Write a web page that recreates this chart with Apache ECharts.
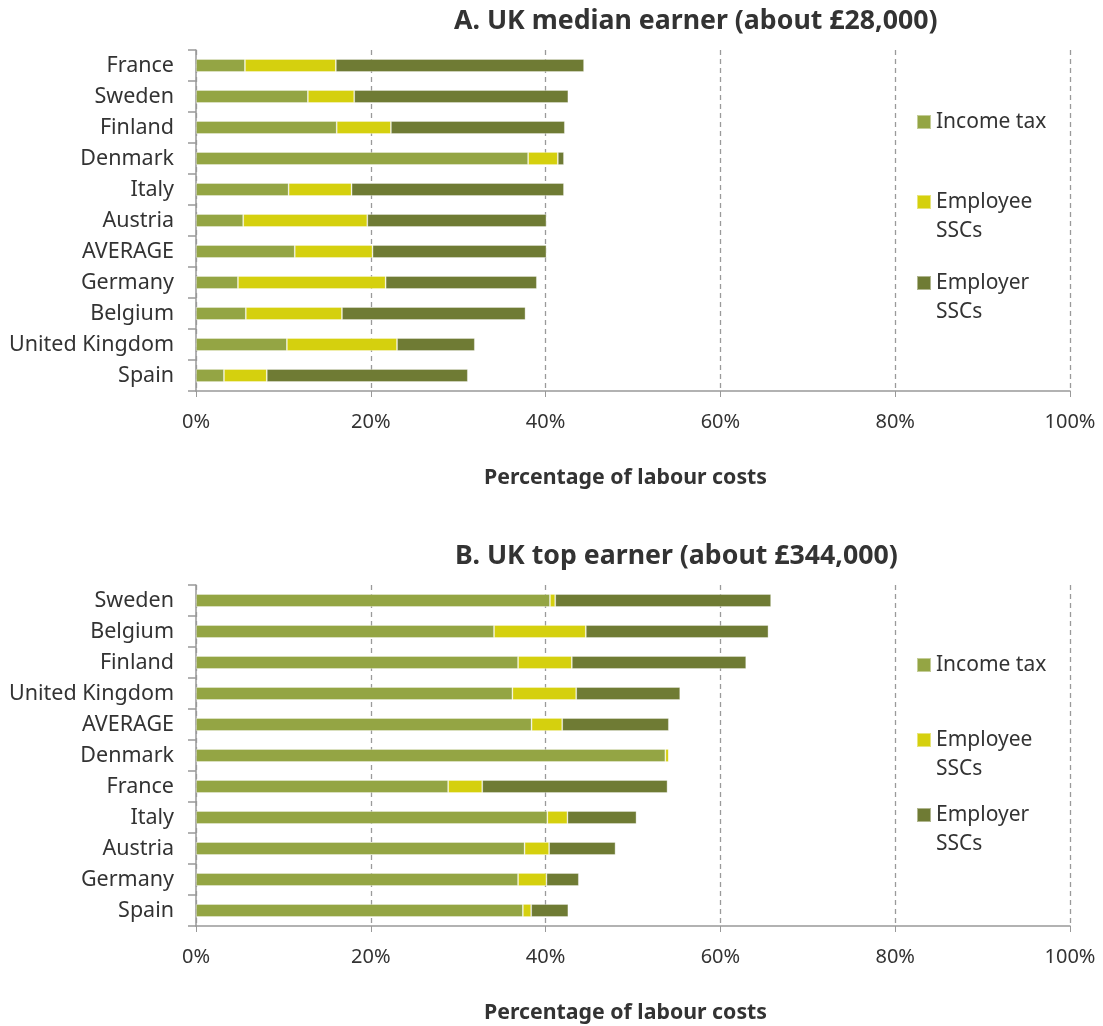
<!DOCTYPE html>
<html>
<head>
<meta charset="utf-8">
<script src="https://cdn.jsdelivr.net/npm/echarts@6/dist/echarts.min.js"></script>
<style>
html,body{margin:0;padding:0;background:#fff;}
#chart{width:1103px;height:1026px;}
</style>
</head>
<body>
<div id="chart"></div>
<script>
// Panel A: UK median earner
const catsA = ['France','Sweden','Finland','Denmark','Italy','Austria','AVERAGE','Germany','Belgium','United Kingdom','Spain'];
const incomeA   = [5.6, 12.8, 16.1, 38.0, 10.6, 5.4, 11.3, 4.8, 5.7, 10.4, 3.2];
const employeeA = [10.4, 5.3, 6.2, 3.4, 7.2, 14.2, 8.9, 16.9, 11.0, 12.6, 4.9];
const employerA = [28.4, 24.5, 19.9, 0.7, 24.3, 20.5, 19.9, 17.3, 21.0, 8.9, 23.0];

// Panel B: UK top earner
const catsB = ['Sweden','Belgium','Finland','United Kingdom','AVERAGE','Denmark','France','Italy','Austria','Germany','Spain'];
const incomeB   = [40.5, 34.1, 36.85, 36.2, 38.4, 53.7, 28.85, 40.2, 37.6, 36.85, 37.4];
const employeeB = [0.6, 10.5, 6.15, 7.3, 3.5, 0.4, 3.9, 2.3, 2.8, 3.25, 0.95];
const employerB = [24.7, 20.9, 19.95, 11.9, 12.2, 0.0, 21.2, 7.9, 7.6, 3.7, 4.25];

const xTicks = [0, 20, 40, 60, 80, 100];
const seriesNames = ['Income tax', 'Employee SSCs', 'Employer SSCs'];
const colors = ['#94A544', '#D5D00E', '#6F7B34'];

const FONT = '"Noto Sans", "Open Sans", sans-serif';
const chart = echarts.init(document.getElementById('chart'));

function xAxis(gridIndex) {
  return {
    gridIndex, type: 'value', min: xTicks[0], max: xTicks[xTicks.length - 1], interval: 20,
    name: 'Percentage of labour costs', nameLocation: 'middle', nameGap: 76,
    nameTextStyle: { fontFamily: FONT, fontSize: 21.3, fontWeight: 'bold', color: '#333', padding: [0, 15, 0, 0] },
    axisLine: { show: true, lineStyle: { color: '#999', width: 1.5 } },
    axisTick: { show: true, length: 6, lineStyle: { color: '#999' } },
    axisLabel: { formatter: '{value}%', fontFamily: FONT, fontSize: 20, color: '#333', margin: 21 },
    splitLine: { show: true, lineStyle: { color: '#9a9a9a', type: [5, 4], width: 1.3 } }
  };
}
function yAxis(gridIndex, cats) {
  return {
    gridIndex, type: 'category', data: cats, inverse: true,
    axisLine: { show: true, lineStyle: { color: '#999', width: 1.5 } },
    axisTick: { show: true, length: 8, lineStyle: { color: '#999', width: 1.5 } },
    axisLabel: { fontFamily: FONT, fontSize: 21.5, color: '#333', margin: 22 }
  };
}
function bars(idx, datas) {
  return datas.map((d, i) => ({
    name: seriesNames[i], type: 'bar', stack: 'p' + idx,
    xAxisIndex: idx, yAxisIndex: idx, barWidth: 13,
    itemStyle: { color: colors[i], borderColor: 'rgba(255,255,255,0.45)', borderWidth: 0.8 },
    data: d
  }));
}
function legends(tops) {
  return seriesNames.map((n, i) => ({
    left: 911, top: tops[i], orient: 'vertical',
    itemWidth: 14, itemHeight: 14, icon: 'rect',
    selectedMode: false,
    data: [n],
    formatter: name => name.indexOf(' SSCs') >= 0 ? '\n' + name.replace(' SSCs', '\nSSCs') : name,
    textStyle: { fontFamily: FONT, fontSize: 21, color: '#333', lineHeight: 29 }
  }));
}

chart.setOption({
  animation: false,
  backgroundColor: '#fff',
  title: [
    { text: 'A. UK median earner (about £28,000)', left: 449, top: 3,
      textStyle: { fontFamily: FONT, fontSize: 26.7, fontWeight: 'bold', color: '#333' } },
    { text: 'B. UK top earner (about £344,000)', left: 450, top: 538,
      textStyle: { fontFamily: FONT, fontSize: 26.7, fontWeight: 'bold', color: '#333' } }
  ],
  grid: [
    { left: 196, top: 50, width: 874, height: 341 },
    { left: 196, top: 585, width: 874, height: 341 }
  ],
  legend: [...legends([102.5, 153.5, 234.5]), ...legends([645.5, 691.5, 766.5])],
  xAxis: [xAxis(0), xAxis(1)],
  yAxis: [yAxis(0, catsA), yAxis(1, catsB)],
  series: [...bars(0, [incomeA, employeeA, employerA]), ...bars(1, [incomeB, employeeB, employerB])]
});
</script>
</body>
</html>
